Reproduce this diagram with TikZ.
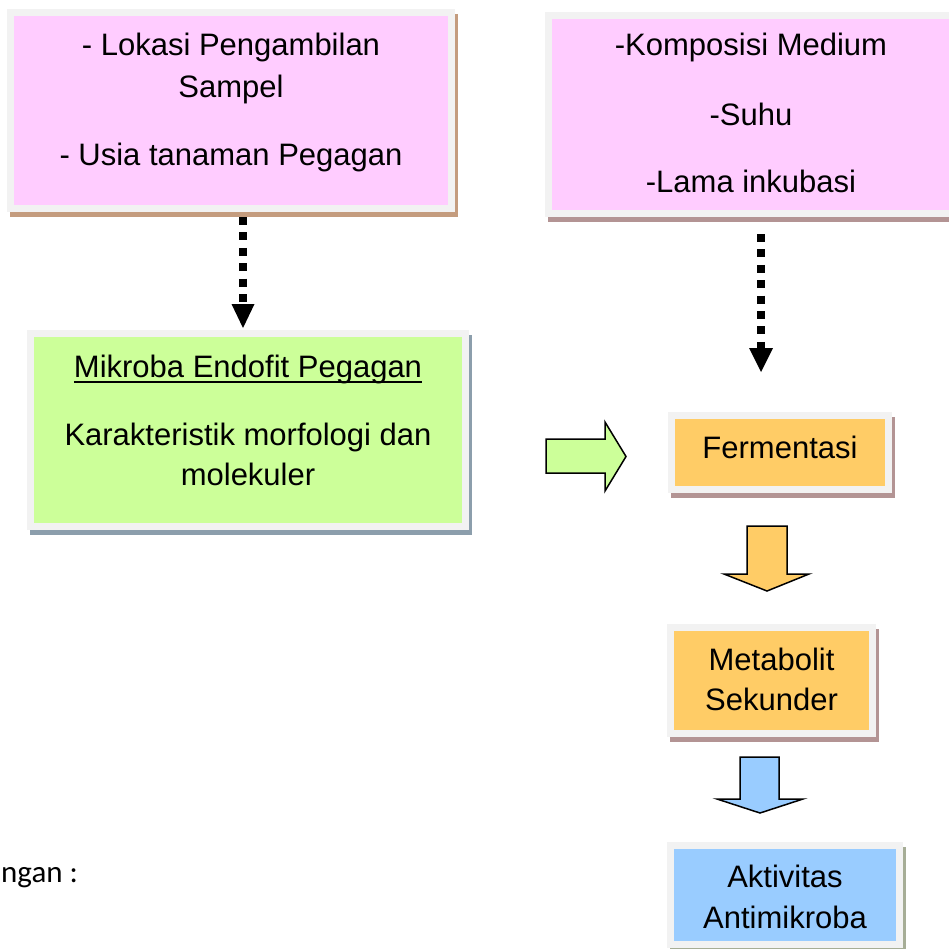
\documentclass[tikz,border=0pt]{standalone}
\usepackage{fontspec}
\setmainfont{Liberation Sans}
\newfontfamily\calfont{Carlito}
\pgfdeclarelayer{bg}
\pgfsetlayers{bg,main}
\definecolor{framegray}{HTML}{F2F2F2}
\definecolor{pinkc}{HTML}{FFCCFF}
\definecolor{greenc}{HTML}{CCFF99}
\definecolor{orangec}{HTML}{FFCC66}
\definecolor{bluec}{HTML}{99CCFF}
\definecolor{shTan}{HTML}{C49C7E}
\definecolor{shMauve}{HTML}{B39494}
\definecolor{shSlate}{HTML}{8C9EAC}
\definecolor{shOlive}{HTML}{A6AD96}
\tikzset{
  boxframe/.style={draw=framegray, line width=7, rectangle, inner sep=0, outer sep=0},
  boxtext/.style={inner sep=0, outer sep=0, anchor=base, font=\fontsize{31}{40}\selectfont},
  dotline/.style={line width=8, line cap=butt, dash pattern=on 8pt off 7.4pt},
  blockarrow/.style={draw=black, line width=1.5, line join=miter},
}
\begin{document}
\begin{tikzpicture}[x=1pt,y=-1pt]
\useasboundingbox (0,0) rectangle (949,948);

% boxes
\node[boxframe, fill=pinkc, minimum width=441, minimum height=196] (b1) at (231,110.5) {};
\node[boxframe, fill=pinkc, minimum width=405, minimum height=198] (b2) at (751,114.5) {};
\node[boxframe, fill=greenc, minimum width=435, minimum height=193] (mik) at (248,430) {};
\node[boxframe, fill=orangec, minimum width=217, minimum height=74] (fer) at (780,452.5) {};
\node[boxframe, fill=orangec, minimum width=202, minimum height=106] (met) at (771.5,680.5) {};
\node[boxframe, fill=bluec, minimum width=229, minimum height=99] (akt) at (785,895) {};

% shadows
\begin{pgfonlayer}{bg}
\fill[shTan] ([shift={(-0.5,1.5)}]b1.north west) rectangle ([shift={(6.5,8.5)}]b1.south east);
\fill[shMauve] ([shift={(-0.5,1.5)}]b2.north west) rectangle ([shift={(6.5,8.5)}]b2.south east);
\fill[shSlate] ([shift={(-0.5,1.5)}]mik.north west) rectangle ([shift={(6.5,8.5)}]mik.south east);
\fill[shMauve] ([shift={(-0.5,1.5)}]fer.north west) rectangle ([shift={(6.5,8.5)}]fer.south east);
\fill[shMauve] ([shift={(-0.5,1.5)}]met.north west) rectangle ([shift={(6.5,8.5)}]met.south east);
\fill[shOlive] ([shift={(-0.5,1.5)}]akt.north west) rectangle ([shift={(6.5,8.5)}]akt.south east);
\end{pgfonlayer}

% texts
\node[boxtext] (t1a) at (231,55) {- Lokasi Pengambilan};
\node[boxtext] (t1b) at (231,97) {Sampel};
\node[boxtext] (t1c) at (231,165) {- Usia tanaman Pegagan};
\node[boxtext] (t2a) at (751,55) {-Komposisi Medium};
\node[boxtext] (t2b) at (751,125) {-Suhu};
\node[boxtext] (t2c) at (751,192) {-Lama inkubasi};
\node[boxtext] (tma) at (248,377) {Mikroba Endofit Pegagan};
\draw[line width=2] ([yshift=-5pt]tma.base west) -- ([yshift=-5pt]tma.base east);
\node[boxtext] (tmb) at (248,445) {Karakteristik morfologi dan};
\node[boxtext] (tmc) at (248,485) {molekuler};
\node[boxtext] (tf) at (780,458) {Fermentasi};
\node[boxtext] (tsa) at (771.5,670) {Metabolit};
\node[boxtext] (tsb) at (771.5,710) {Sekunder};
\node[boxtext] (taa) at (785,887) {Aktivitas};
\node[boxtext] (tab) at (785,928) {Antimikroba};
\node[inner sep=0, anchor=base west, font=\calfont\fontsize{31}{38}\selectfont] (ket) at (1,882) {ngan :};

% dotted arrows
\coordinate (d1s) at (243,217);
\coordinate (d1h) at (243,304);
\coordinate (d1e) at (243,328);
\draw[dotline] (d1s) -- (d1h);
\fill ([xshift=-11.5pt]d1h) -- ([xshift=11.5pt]d1h) -- (d1e) -- cycle;
\coordinate (d2s) at (761,234);
\coordinate (d2h) at (761,348);
\coordinate (d2e) at (761,372);
\draw[dotline] (d2s) -- (d2h);
\fill ([xshift=-12pt]d2h) -- ([xshift=12pt]d2h) -- (d2e) -- cycle;

% block arrows
\draw[blockarrow, fill=greenc] (546,439) -- (605,439) -- (605,422) -- (626,456.5) -- (605,491) -- (605,473) -- (546,473) -- cycle;
\draw[blockarrow, fill=orangec] (747,526) -- (787,526) -- (787,574) -- (809,574) -- (767,591) -- (724,574) -- (747,574) -- cycle;
\draw[blockarrow, fill=bluec] (740,757) -- (779,757) -- (779,799) -- (803,799) -- (760,813) -- (717,799) -- (740,799) -- cycle;
\end{tikzpicture}
\end{document}
